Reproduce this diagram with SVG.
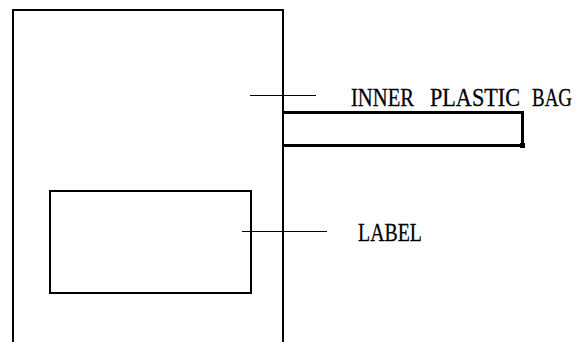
<svg xmlns="http://www.w3.org/2000/svg" width="580" height="342" viewBox="0 0 580 342">
<style>
.box{fill:none;stroke:#000;stroke-width:2}
.bag{fill:none;stroke:#000;stroke-width:3}
.lead{stroke:#000;stroke-width:1;fill:none}
.t{font-family:"Liberation Serif","DejaVu Serif",serif;font-size:26px;fill:#000;stroke:#000;stroke-width:0.3}
</style>
<rect width="580" height="342" fill="#fff"/>
<g id="carton">
<polyline class="box" points="13,343 13,10 283,10 283,343"/>
</g>
<g id="inner-bag">
<polyline class="bag" points="284,112.5 522.5,112.5 522.5,145.5 284,145.5"/>
<rect x="520" y="143" width="5" height="5" fill="#000"/>
</g>
<g id="label-box">
<rect class="box" x="50" y="191" width="201" height="102"/>
</g>
<g id="connectors">
<line class="lead" x1="250" y1="95.5" x2="316" y2="95.5"/>
<line class="lead" x1="242" y1="231.5" x2="327" y2="231.5"/>
</g>
<g id="texts">
<text class="t" transform="translate(351,106) scale(0.793,1)">INNER</text>
<text class="t" transform="translate(430,106) scale(0.853,1)">PLASTIC</text>
<text class="t" transform="translate(532,106) scale(0.729,1)">BAG</text>
<text class="t" transform="translate(358,241) scale(0.764,1)">LABEL</text>
</g>
</svg>
